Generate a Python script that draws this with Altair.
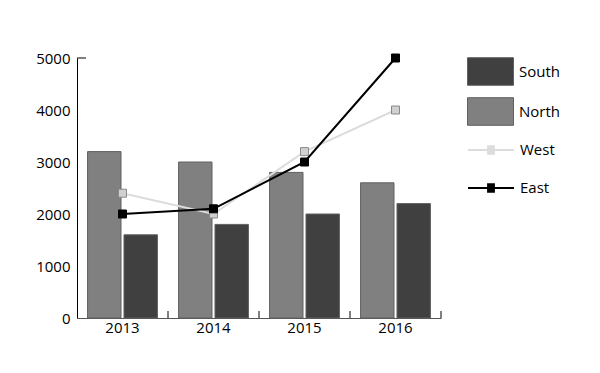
import altair as alt
import pandas as pd

years = ["2013", "2014", "2015", "2016"]
north = [3200, 3000, 2800, 2600]
south = [1600, 1800, 2000, 2200]
west = [2400, 2000, 3200, 4000]
east = [2000, 2100, 3000, 5000]

bar_series = ["South", "North"]
bar_colors = ["#404040", "#808080"]
line_series = ["West", "East"]
line_colors = ["#dcdcdc", "#000000"]
point_fills = ["#d0d0d0", "#000000"]
point_strokes = ["#8a8a8a", "#000000"]
y_ticks = [0, 1000, 2000, 3000, 4000, 5000]

FONT = "Open Sans"

bars_df = pd.DataFrame(
    [{"year": y, "series": "North", "value": v} for y, v in zip(years, north)]
    + [{"year": y, "series": "South", "value": v} for y, v in zip(years, south)]
)
lines_df = pd.DataFrame(
    [{"year": y, "series": "West", "value": v} for y, v in zip(years, west)]
    + [{"year": y, "series": "East", "value": v} for y, v in zip(years, east)]
)
years_df = pd.DataFrame({"year": years})
top_df = pd.DataFrame({"value": [y_ticks[-1]]})

x_scale = alt.Scale(domain=years, paddingInner=0, paddingOuter=0)
y_scale = alt.Scale(domain=[0, 5000], nice=False)

rect_path = "M-1,-0.6H1V0.6H-1Z"
line_path = ("M-1,0H1"
             "M-0.17,-0.16H0.17M-0.17,-0.08H0.17M-0.17,0H0.17"
             "M-0.17,0.08H0.17M-0.17,0.16H0.17")

legend_common = dict(
    orient="none",
    legendX=390,
    symbolSize=2116,
    gridAlign="all",
    labelFontSize=15,
    labelFont=FONT,
    labelColor="#000000",
    labelOffset=5,
    padding=0,
    symbolOpacity=1,
)

x_enc = alt.X(
    "year:N",
    scale=x_scale,
    title=None,
    axis=alt.Axis(
        labelAngle=0,
        ticks=False,
        domainColor="#555555",
        labelFontSize=15,
        labelFont=FONT,
        labelColor="#000000",
        labelPadding=2,
    ),
)
y_enc = alt.Y(
    "value:Q",
    scale=y_scale,
    title=None,
    axis=alt.Axis(
        values=y_ticks,
        format="d",
        ticks=False,
        grid=False,
        domainColor="#000000",
        labelFontSize=15,
        labelFont=FONT,
        labelColor="#000000",
        labelPadding=7,
    ),
)

bars = alt.Chart(bars_df).mark_bar(stroke="#606060", strokeWidth=1).encode(
    x=x_enc,
    xOffset=alt.XOffset(
        "series:N",
        scale=alt.Scale(domain=["North", "South"], paddingInner=0.082, paddingOuter=0.29),
    ),
    y=y_enc,
    fill=alt.Fill(
        "series:N",
        title=None,
        scale=alt.Scale(domain=bar_series, range=bar_colors),
        legend=alt.Legend(
            legendY=-10,
            rowPadding=0,
            symbolType=rect_path,
            symbolStrokeColor="#606060",
            symbolStrokeWidth=1,
            **legend_common,
        ),
    ),
)

stroke_enc = alt.Stroke(
    "series:N",
    title=None,
    scale=alt.Scale(domain=line_series, range=line_colors),
    legend=alt.Legend(
        legendY=68,
        rowPadding=6,
        symbolType=line_path,
        symbolStrokeWidth=2,
        symbolFillColor="transparent",
        **legend_common,
    ),
)


def series_layer(name, fill, stroke):
    d = lines_df[lines_df["series"] == name]
    ln = alt.Chart(d).mark_line(strokeWidth=2).encode(
        x=alt.X("year:N", scale=x_scale),
        y=alt.Y("value:Q", scale=y_scale),
        stroke=stroke_enc,
    )
    pt = alt.Chart(d).mark_point(
        shape="square", filled=True, size=64, opacity=1, fill=fill, stroke=stroke, strokeWidth=1
    ).encode(
        x=alt.X("year:N", scale=x_scale),
        y=alt.Y("value:Q", scale=y_scale),
    )
    return ln + pt


west_layer = series_layer("West", point_fills[0], point_strokes[0])
east_layer = series_layer("East", point_fills[1], point_strokes[1])

x_ticks = alt.Chart(years_df).mark_rule(color="#000000", strokeWidth=1).encode(
    x=alt.X("year:N", scale=x_scale, bandPosition=1),
    y=alt.value(260),
    y2=alt.value(253),
)

y_cap = alt.Chart(top_df).mark_rule(color="#000000", strokeWidth=1).encode(
    y=alt.Y("value:Q", scale=y_scale),
    x=alt.value(0),
    x2=alt.value(9),
)

chart = alt.layer(bars, west_layer, east_layer, x_ticks, y_cap).properties(
    width=364,
    height=260,
    autosize="none",
    padding={"left": 77, "top": 58, "right": 159, "bottom": 55},
).configure(
    font=FONT,
    view=alt.ViewConfig(stroke="transparent"),
)

chart.save("out.html", embed_options={"renderer": "svg", "actions": False})
